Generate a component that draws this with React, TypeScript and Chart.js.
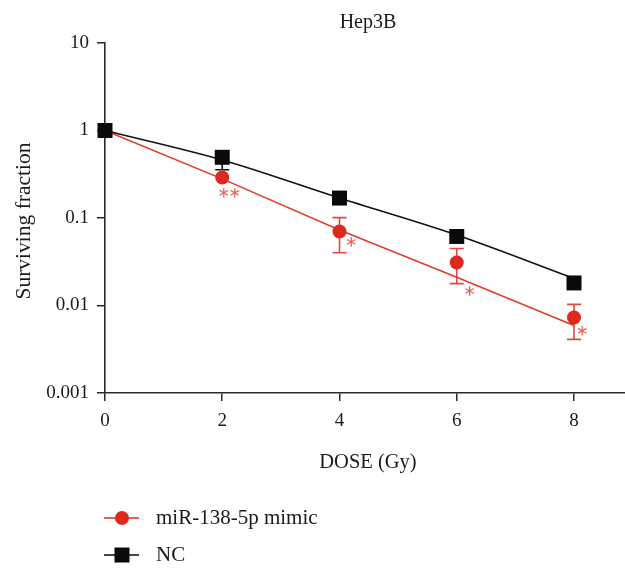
import React, { useEffect, useRef } from "react";
import { Chart, registerables } from "chart.js";

Chart.register(...registerables);

// ---------- data ----------
const doses = [0, 2, 4, 6, 8];
const xTicks = [0, 2, 4, 6, 8];
const yTicks = [0.001, 0.01, 0.1, 1, 10];
const yTickLabels = ["0.001", "0.01", "0.1", "1", "10"];

const mimicMean = [1, 0.29, 0.07, 0.031, 0.0073];
const mimicLow = [1, 0.29, 0.04, 0.0178, 0.0041];
const mimicHigh = [1, 0.29, 0.101, 0.0448, 0.0103];
const mimicFit = [1, 0.28, 0.073, 0.021, 0.0059];

const ncMean = [1, 0.494, 0.169, 0.0615, 0.0181];
const ncLow = [1, 0.356, 0.169, 0.0615, 0.0181];
const ncHigh = [1, 0.494, 0.169, 0.0615, 0.0181];
const ncFit = [1, 0.46, 0.169, 0.064, 0.0204];

const starX = [2.12, 4.2, 6.22, 8.14];
const starY = [0.194, 0.0534, 0.0147, 0.00514];
const starCount = [2, 1, 1, 1];

const titleText = "Hep3B";
const xTitle = "DOSE (Gy)";
const yTitle = "Surviving fraction";
const seriesNames = ["miR-138-5p mimic", "NC"];

// ---------- styles ----------
const RED = "#dc2b1e";
const RED_LINE = "#e23a2d";
const RED_BAR = "#e04a3f";
const STAR = "#e8625b";
const BLACK = "#0a0a0a";
const AXIS = "#2a2a2a";
const TEXT = "#1a1a1a";
const FONT = "'Liberation Serif', 'Times New Roman', serif";

function drawStar(ctx: CanvasRenderingContext2D, cx: number, cy: number) {
  const r = 4.8;
  ctx.beginPath();
  for (let k = 0; k < 3; k++) {
    const a = Math.PI / 2 + (k * Math.PI) / 3;
    ctx.moveTo(cx - r * Math.cos(a), cy - r * Math.sin(a));
    ctx.lineTo(cx + r * Math.cos(a), cy + r * Math.sin(a));
  }
  ctx.stroke();
}

const overlayPlugin = {
  id: "overlay",
  beforeDatasetsDraw(chart: any) {
    const ctx = chart.ctx as CanvasRenderingContext2D;
    const xs = chart.scales.x;
    const ys = chart.scales.y;
    ctx.save();
    const bars = [
      { lo: mimicLow, hi: mimicHigh, mean: mimicMean, color: RED_BAR },
      { lo: ncLow, hi: ncHigh, mean: ncMean, color: BLACK },
    ];
    bars.forEach((b) => {
      ctx.strokeStyle = b.color;
      ctx.lineWidth = 1.6;
      doses.forEach((d, i) => {
        const px = xs.getPixelForValue(d);
        const ends: number[] = [];
        if (b.lo[i] < b.mean[i]) ends.push(ys.getPixelForValue(b.lo[i]));
        if (b.hi[i] > b.mean[i]) ends.push(ys.getPixelForValue(b.hi[i]));
        if (!ends.length) return;
        const pm = ys.getPixelForValue(b.mean[i]);
        ctx.beginPath();
        ends.forEach((e) => {
          ctx.moveTo(px, pm);
          ctx.lineTo(px, e);
          ctx.moveTo(px - 7, e);
          ctx.lineTo(px + 7, e);
        });
        ctx.stroke();
      });
    });
    ctx.restore();
  },
  afterDraw(chart: any) {
    const ctx = chart.ctx as CanvasRenderingContext2D;
    const xs = chart.scales.x;
    const ys = chart.scales.y;
    ctx.save();
    // asterisks
    ctx.strokeStyle = STAR;
    ctx.lineWidth = 1.3;
    starX.forEach((sx, i) => {
      const px = xs.getPixelForValue(sx);
      const py = ys.getPixelForValue(starY[i]);
      if (starCount[i] === 2) {
        drawStar(ctx, px - 5.5, py);
        drawStar(ctx, px + 5.5, py);
      } else {
        drawStar(ctx, px, py);
      }
    });

    ctx.fillStyle = TEXT;
    ctx.textAlign = "center";
    ctx.textBaseline = "middle";
    // title
    ctx.font = `20px ${FONT}`;
    ctx.fillText(titleText, 368, 23);
    // x title
    ctx.font = `20.5px ${FONT}`;
    ctx.fillText(xTitle, 368, 463);
    // y title
    ctx.save();
    ctx.font = `21.5px ${FONT}`;
    ctx.translate(24, 221);
    ctx.rotate(-Math.PI / 2);
    ctx.fillText(yTitle, 0, 0);
    ctx.restore();

    // legend
    const rows = [
      { y: 518, color: RED, style: "circle" },
      { y: 555, color: BLACK, style: "rect" },
    ];
    rows.forEach((r, i) => {
      ctx.strokeStyle = r.color;
      ctx.lineWidth = 1.5;
      ctx.beginPath();
      ctx.moveTo(104, r.y);
      ctx.lineTo(139, r.y);
      ctx.stroke();
      ctx.fillStyle = r.color;
      if (r.style === "circle") {
        ctx.beginPath();
        ctx.arc(122, r.y, 7, 0, Math.PI * 2);
        ctx.fill();
      } else {
        ctx.fillRect(114.5, r.y - 7.5, 15, 15);
      }
      ctx.fillStyle = TEXT;
      ctx.textAlign = "left";
      ctx.font = `21px ${FONT}`;
      ctx.fillText(seriesNames[i], 156, r.y);
    });
    ctx.restore();
  },
};

export default function App() {
  const ref = useRef<HTMLCanvasElement | null>(null);
  useEffect(() => {
    if (!ref.current) return;
    const xy = (arr: number[]) => doses.map((d, i) => ({ x: d, y: arr[i] }));
    const chart = new Chart(ref.current, {
      type: "line",
      data: {
        datasets: [
          {
            label: "NC",
            data: xy(ncMean),
            showLine: false,
            pointStyle: "rect",
            pointRadius: 10.6,
            pointBackgroundColor: BLACK,
            pointBorderWidth: 0,
            clip: false,
            order: 0,
          },
          {
            label: "miR-138-5p mimic",
            data: xy(mimicMean),
            showLine: false,
            pointStyle: "circle",
            pointRadius: 7,
            pointBackgroundColor: RED,
            pointBorderWidth: 0,
            clip: false,
            order: 1,
          },
          {
            label: "NC fit",
            data: xy(ncFit),
            borderColor: "#111111",
            borderWidth: 1.6,
            pointRadius: 0,
            cubicInterpolationMode: "monotone",
            clip: false,
            order: 2,
          },
          {
            label: "mimic fit",
            data: xy(mimicFit),
            borderColor: RED_LINE,
            borderWidth: 1.5,
            pointRadius: 0,
            clip: false,
            order: 3,
          },
        ],
      },
      options: {
        responsive: false,
        animation: false,
        events: [],
        layout: { autoPadding: false, padding: { left: 0, right: 0, top: 43, bottom: 0 } },
        plugins: { legend: { display: false }, tooltip: { enabled: false }, title: { display: false } },
        scales: {
          x: {
            type: "linear",
            min: 0,
            max: 8.87,
            afterFit: (s: any) => {
              s.height = 175;
            },
            afterBuildTicks: (s: any) => {
              s.ticks = xTicks.map((v) => ({ value: v }));
            },
            grid: { drawOnChartArea: false, drawTicks: true, tickLength: 8, color: AXIS, lineWidth: 1.5 },
            border: { display: true, color: AXIS, width: 1.6 },
            ticks: {
              color: TEXT,
              font: { family: FONT, size: 19 },
              padding: 9,
              maxRotation: 0,
              callback: (v: any) => String(v),
            },
          },
          y: {
            type: "logarithmic",
            min: 0.001,
            max: 10,
            afterFit: (s: any) => {
              s.width = 105;
            },
            afterBuildTicks: (s: any) => {
              s.ticks = yTicks.map((v) => ({ value: v }));
            },
            grid: { drawOnChartArea: false, drawTicks: true, tickLength: 8, color: AXIS, lineWidth: 1.5 },
            border: { display: true, color: AXIS, width: 1.6 },
            ticks: {
              color: TEXT,
              font: { family: FONT, size: 19 },
              padding: 8,
              callback: (v: any) => {
                const idx = yTicks.findIndex((t) => Math.abs(t - v) / t < 1e-6);
                return idx >= 0 ? yTickLabels[idx] : "";
              },
            },
          },
        },
      },
      plugins: [overlayPlugin],
    } as any);
    return () => chart.destroy();
  }, []);
  return (
    <div style={{ position: "absolute", left: 0, top: 0, width: 625, height: 568, background: "#fff" }}>
      <canvas ref={ref} width={625} height={568} style={{ display: "block", width: 625, height: 568 }} />
    </div>
  );
}
